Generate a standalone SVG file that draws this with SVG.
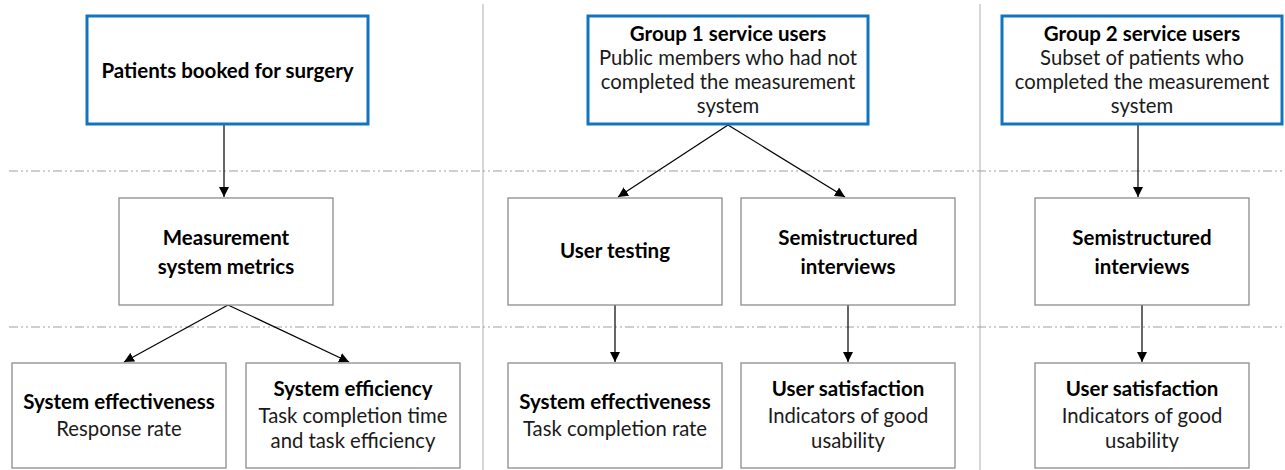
<svg xmlns="http://www.w3.org/2000/svg" width="1285" height="470" viewBox="0 0 1285 470">
<defs>
<marker id="ah" viewBox="0 0 10 10" refX="10" refY="5" markerWidth="10" markerHeight="10" markerUnits="userSpaceOnUse" orient="auto">
<path d="M0,0 L10,5 L0,10 z" fill="#000"/>
</marker>
<style>
.blue{fill:#fff;stroke:#1274c0;stroke-width:3}
.box{fill:#fff;stroke:#8c8c8c;stroke-width:1.3}
.t{font-family:Lato,"Liberation Sans",sans-serif;font-size:20.3px;fill:#1a1a1a;text-anchor:middle}
.b{font-weight:bold;fill:#000;font-size:20.5px}
.div{stroke:#bdbdbd;stroke-width:1.2;fill:none}
.dash{stroke:#a0a0a0;stroke-width:1.2;stroke-dasharray:9 3 2 3 2 3;fill:none}
.c{stroke:#000;stroke-width:1.2;fill:none;marker-end:url(#ah)}
</style>
</defs>
<rect width="1285" height="470" fill="#fff"/>
<g id="guides">
<line class="div" x1="483" y1="4" x2="483" y2="470"/>
<line class="div" x1="980" y1="4" x2="980" y2="470"/>
<line class="dash" x1="9" y1="171" x2="1285" y2="171"/>
<line class="dash" x1="9" y1="327" x2="1285" y2="327"/>
</g>
<g id="connectors">
<line class="c" x1="224" y1="125" x2="224" y2="197"/>
<line class="c" x1="228" y1="305" x2="124" y2="362"/>
<line class="c" x1="228" y1="305" x2="349" y2="362"/>
<line class="c" x1="728" y1="125" x2="618" y2="197"/>
<line class="c" x1="728" y1="125" x2="845" y2="197"/>
<line class="c" x1="615" y1="305" x2="615" y2="362"/>
<line class="c" x1="848" y1="305" x2="848" y2="362"/>
<line class="c" x1="1138" y1="125" x2="1138" y2="197"/>
<line class="c" x1="1142" y1="305" x2="1142" y2="362"/>
</g>
<g id="patients">
<rect class="blue" x="87" y="16" width="281" height="108"/>
<text class="t b" x="227.5" y="78">Patients booked for surgery</text>
</g>
<g id="group1">
<rect class="blue" x="588" y="16" width="280" height="108"/>
<text class="t b" x="728" y="41">Group 1 service users</text>
<text class="t" x="728" y="65">Public members who had not</text>
<text class="t" x="728" y="89">completed the measurement</text>
<text class="t" x="728" y="113">system</text>
</g>
<g id="group2">
<rect class="blue" x="1002" y="16" width="280" height="108"/>
<text class="t b" x="1142" y="41">Group 2 service users</text>
<text class="t" x="1142" y="65">Subset of patients who</text>
<text class="t" x="1142" y="89">completed the measurement</text>
<text class="t" x="1142" y="113">system</text>
</g>
<g id="metrics">
<rect class="box" x="119" y="198" width="214" height="107"/>
<text class="t b" x="226" y="245">Measurement</text>
<text class="t b" x="226" y="274">system metrics</text>
</g>
<g id="usertesting">
<rect class="box" x="508" y="198" width="214" height="107"/>
<text class="t b" x="615" y="258">User testing</text>
</g>
<g id="interviews1">
<rect class="box" x="741" y="198" width="214" height="107"/>
<text class="t b" x="848" y="245">Semistructured</text>
<text class="t b" x="848" y="274">interviews</text>
</g>
<g id="interviews2">
<rect class="box" x="1035" y="198" width="214" height="107"/>
<text class="t b" x="1142" y="245">Semistructured</text>
<text class="t b" x="1142" y="274">interviews</text>
</g>
<g id="effectiveness1">
<rect class="box" x="12" y="363" width="214" height="105"/>
<text class="t b" x="119" y="409">System effectiveness</text>
<text class="t" x="119" y="436">Response rate</text>
</g>
<g id="efficiency">
<rect class="box" x="246" y="363" width="214" height="105"/>
<text class="t b" x="353" y="396">System efficiency</text>
<text class="t" x="353" y="423">Task completion time</text>
<text class="t" x="353" y="448">and task efficiency</text>
</g>
<g id="effectiveness2">
<rect class="box" x="508" y="363" width="214" height="105"/>
<text class="t b" x="615" y="409">System effectiveness</text>
<text class="t" x="615" y="436">Task completion rate</text>
</g>
<g id="satisfaction1">
<rect class="box" x="741" y="363" width="214" height="105"/>
<text class="t b" x="848" y="396">User satisfaction</text>
<text class="t" x="848" y="423">Indicators of good</text>
<text class="t" x="848" y="448">usability</text>
</g>
<g id="satisfaction2">
<rect class="box" x="1035" y="363" width="214" height="105"/>
<text class="t b" x="1142" y="396">User satisfaction</text>
<text class="t" x="1142" y="423">Indicators of good</text>
<text class="t" x="1142" y="448">usability</text>
</g>
</svg>
